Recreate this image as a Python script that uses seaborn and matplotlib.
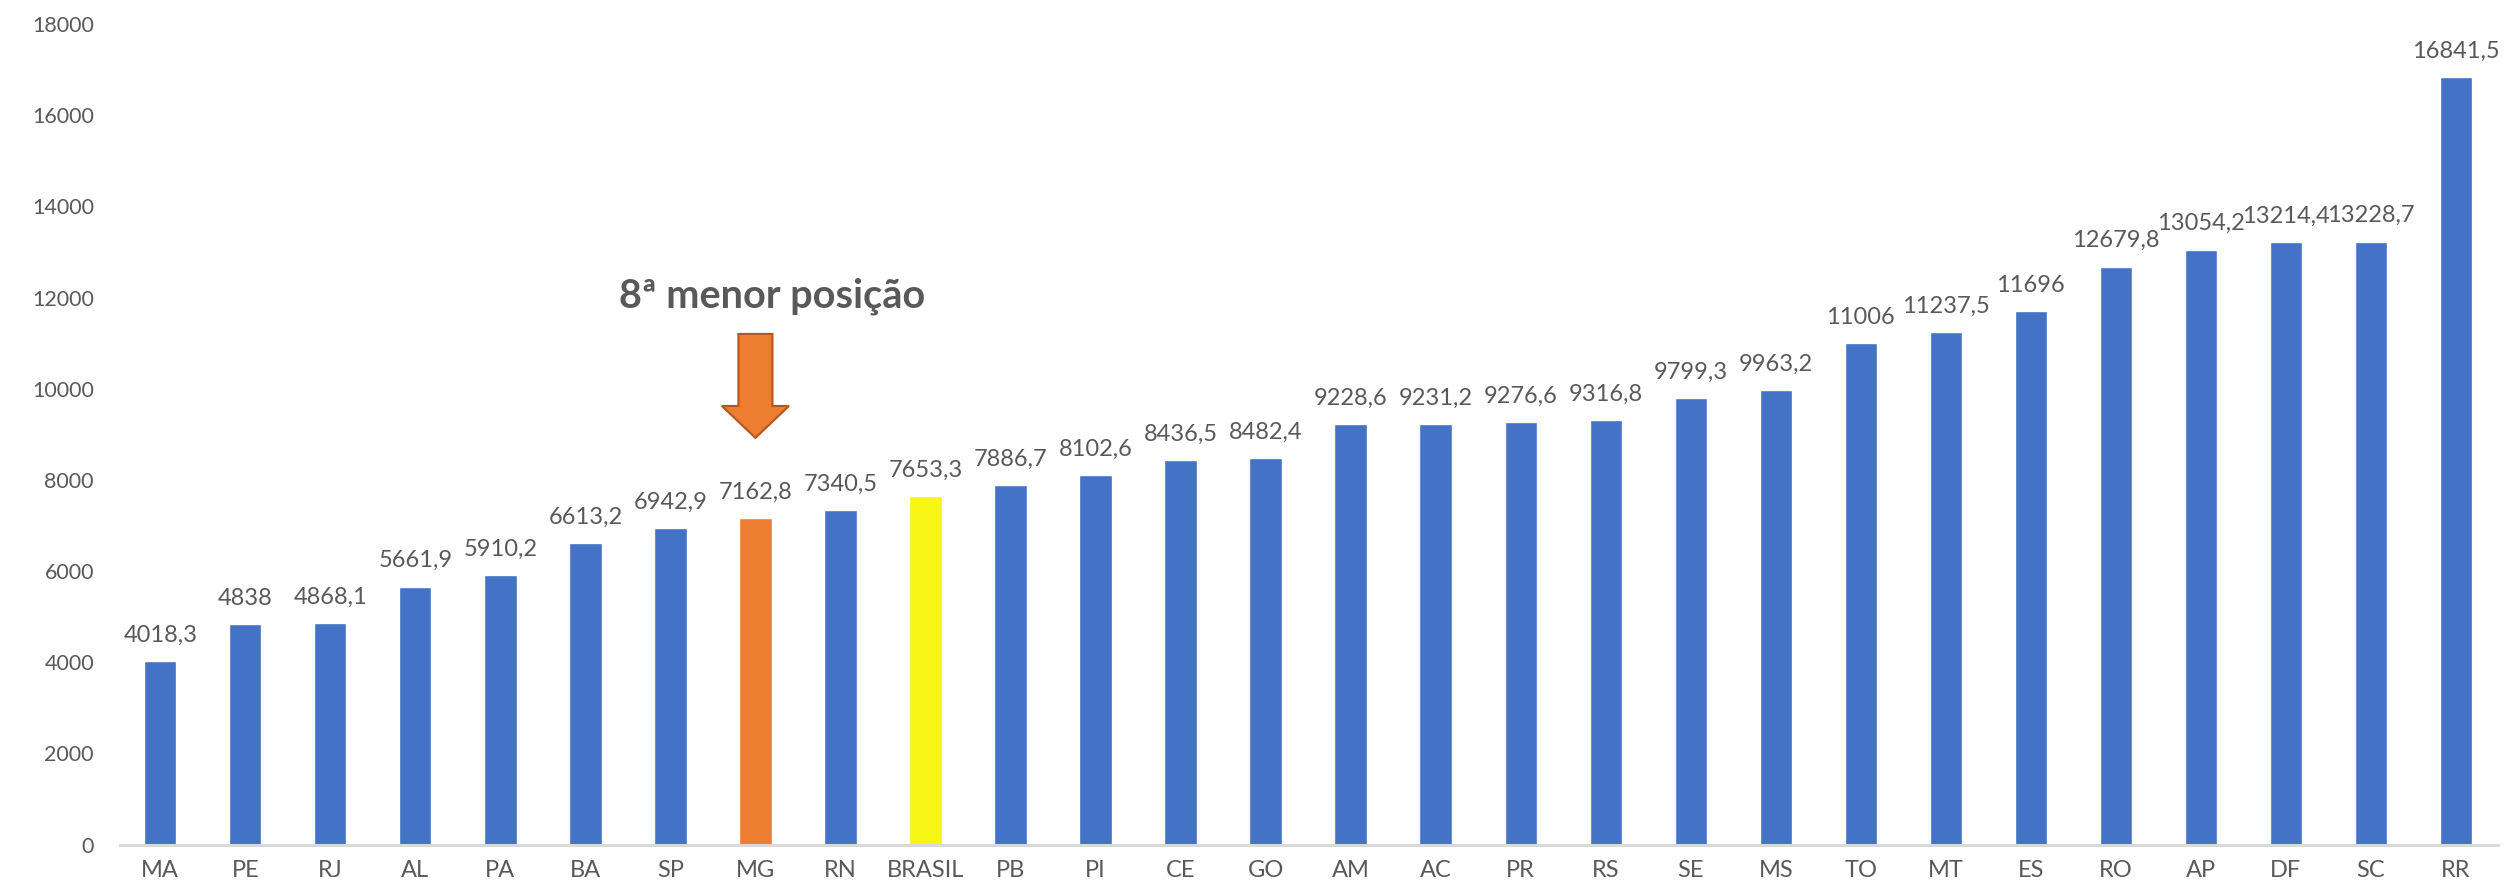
import numpy as np
import matplotlib
matplotlib.use("Agg")
import matplotlib.pyplot as plt
import seaborn as sns

# dados
estados = ["MA", "PE", "RJ", "AL", "PA", "BA", "SP", "MG", "RN", "BRASIL", "PB", "PI", "CE", "GO",
           "AM", "AC", "PR", "RS", "SE", "MS", "TO", "MT", "ES", "RO", "AP", "DF", "SC", "RR"]
valores = [4018.3, 4838, 4868.1, 5661.9, 5910.2, 6613.2, 6942.9, 7162.8, 7340.5, 7653.3, 7886.7,
           8102.6, 8436.5, 8482.4, 9228.6, 9231.2, 9276.6, 9316.8, 9799.3, 9963.2, 11006, 11237.5,
           11696, 12679.8, 13054.2, 13214.4, 13228.7, 16841.5]
destaque = "MG"
media = "BRASIL"
y_ticks = list(range(0, 18001, 2000))

AZUL = "#4472C4"
LARANJA = "#ED7D31"
AMARELO = "#F7F514"
CINZA = "#595959"

sns.set_theme(style="white")
plt.rcParams['font.family'] = ['Lato', 'DejaVu Sans']

cores = {e: (LARANJA if e == destaque else AMARELO if e == media else AZUL) for e in estados}

fig = plt.figure(figsize=(25.06, 8.91), dpi=100)
ax = fig.add_axes([0.048, 0.052, 0.949, 0.921])

sns.barplot(x=estados, y=valores, hue=estados, palette=cores, legend=False,
            width=0.38, ax=ax, saturation=1, order=estados)

# rótulos de dados
for i, v in enumerate(valores):
    txt = f"{v:g}".replace(".", ",")
    ax.annotate(txt, (i, v), xytext=(0, 11), textcoords="offset points",
                ha="center", va="bottom", fontsize=17, color=CINZA)

ax.set_ylim(0, 18000)
ax.set_xlim(-0.47, 27.5)
ax.set_yticks(y_ticks)
ax.set_yticklabels([str(t) for t in y_ticks])
ax.tick_params(axis="y", length=0, pad=19, labelsize=15.5, labelcolor=CINZA)
ax.tick_params(axis="x", length=0, pad=11, labelsize=17, labelcolor=CINZA)
ax.set_xlabel("")
ax.set_ylabel("")

for s in ["top", "right", "left"]:
    ax.spines[s].set_visible(False)
ax.spines["bottom"].set_color("#D9D9D9")
ax.spines["bottom"].set_linewidth(2.2)

# seta e texto sobre MG
i_mg = estados.index(destaque)
v_mg = valores[i_mg]
topo = v_mg + 4040
ponta = v_mg + 1760
ax.arrow(i_mg, topo, 0, ponta - topo, width=0.4, head_width=0.79, head_length=700,
         length_includes_head=True, fc=LARANJA, ec="#B5561A", lw=1.5, zorder=5)
ax.text(i_mg + 0.2, v_mg + 4870, "8ª menor posição", ha="center", va="center",
        fontsize=28.5, fontweight="bold", color=CINZA)

fig.savefig("out.png", dpi=100, facecolor="white")
